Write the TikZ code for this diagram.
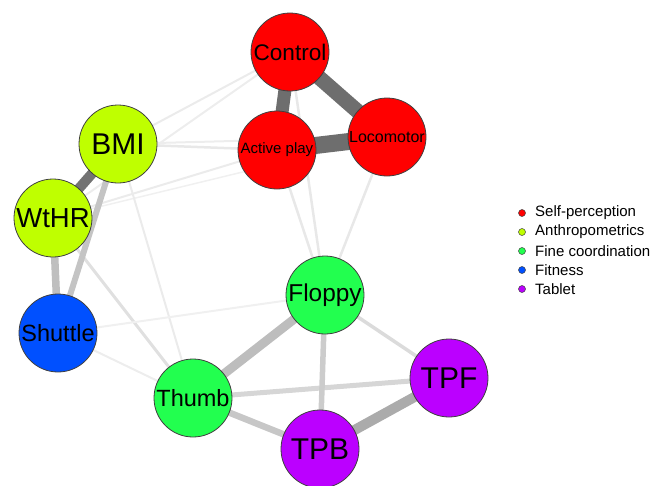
\documentclass[tikz,border=0pt]{standalone}
\usepackage{fontspec}
\setmainfont{Liberation Sans}
\usetikzlibrary{backgrounds}
\definecolor{selfp}{HTML}{FF0000}
\definecolor{anthro}{HTML}{BFFF00}
\definecolor{finec}{HTML}{22FF4F}
\definecolor{fitn}{HTML}{0050FF}
\definecolor{tabl}{HTML}{BB00FF}
\begin{document}
\begin{tikzpicture}[x=1pt,y=-1pt,
  var/.style={circle, draw=black!75, line width=0.8pt, minimum size=78pt, inner sep=0pt},
  lab/.style={font=\fontsize{#1}{#1}\selectfont},
  edge/.style={line width=#1},
  key/.style={circle, draw=black!75, line width=0.5pt, minimum size=7pt, inner sep=0pt}]
\useasboundingbox (0,0) rectangle (656,485);
\node [var, fill=selfp, lab=22.6] (control) at (290,52) {Control};
\node [var, fill=selfp, lab=15] (active) at (277,150) {Active play};
\node [var, fill=selfp, lab=16] (loco) at (387,137) {Locomotor};
\node [var, fill=anthro, lab=30] (bmi) at (118,144) {BMI};
\node [var, fill=anthro, lab=27.5] (wthr) at (53,218) {WtHR};
\node [var, fill=fitn, lab=23.5] (shuttle) at (58,333) {Shuttle};
\node [var, fill=finec, lab=23.5] (thumb) at (193,398) {Thumb};
\node [var, fill=finec, lab=24.4] (floppy) at (325,295) {Floppy};
\node [var, fill=tabl, lab=30] (tpf) at (449,378) {TPF};
\node [var, fill=tabl, lab=30] (tpb) at (320,449) {TPB};
\begin{scope}[on background layer]
\draw [edge=2pt, black!8] (bmi.center) -- (control.center);
\draw [edge=2pt, black!7] (wthr.center) -- (control.center);
\draw [edge=2.5pt, black!9] (bmi.center) -- (active.center);
\draw [edge=2pt, black!7] (bmi.center) -- (loco.center);
\draw [edge=2pt, black!8] (wthr.center) -- (active.center);
\draw [edge=1.5pt, black!6] (wthr.center) -- (loco.center);
\draw [edge=2.5pt, black!9] (control.center) -- (floppy.center);
\draw [edge=2.5pt, black!9] (active.center) -- (floppy.center);
\draw [edge=2.5pt, black!9] (loco.center) -- (floppy.center);
\draw [edge=2pt, black!8] (bmi.center) -- (thumb.center);
\draw [edge=3pt, black!12] (wthr.center) -- (thumb.center);
\draw [edge=2pt, black!6] (shuttle.center) -- (floppy.center);
\draw [edge=2pt, black!7] (shuttle.center) -- (thumb.center);
\draw [edge=3.5pt, black!14] (floppy.center) -- (tpf.center);
\draw [edge=5pt, black!16] (thumb.center) -- (tpf.center);
\draw [edge=5.5pt, black!20] (floppy.center) -- (tpb.center);
\draw [edge=6.5pt, black!22] (thumb.center) -- (tpb.center);
\draw [edge=9pt, black!26] (thumb.center) -- (floppy.center);
\draw [edge=10pt, black!33] (tpb.center) -- (tpf.center);
\draw [edge=6pt, black!23] (bmi.center) -- (shuttle.center);
\draw [edge=7.5pt, black!25] (wthr.center) -- (shuttle.center);
\draw [edge=10pt, black!55] (bmi.center) -- (wthr.center);
\draw [edge=13pt, black!57] (control.center) -- (active.center);
\draw [edge=15pt, black!57] (control.center) -- (loco.center);
\draw [edge=17pt, black!57] (active.center) -- (loco.center);
\end{scope}
\node [key, fill=selfp] (k1) at (522,213) {};
\node [key, fill=anthro] (k2) at (522,232) {};
\node [key, fill=finec] (k3) at (522,251) {};
\node [key, fill=fitn] (k4) at (522,270) {};
\node [key, fill=tabl] (k5) at (522,289) {};
\node [right, lab=15, inner sep=0pt] (t1) at (535,213) {Self-perception};
\node [right, lab=15, inner sep=0pt] (t2) at (535,232) {Anthropometrics};
\node [right, lab=15, inner sep=0pt] (t3) at (535,251) {Fine coordination};
\node [right, lab=15, inner sep=0pt] (t4) at (535,270) {Fitness};
\node [right, lab=15, inner sep=0pt] (t5) at (535,289) {Tablet};
\end{tikzpicture}
\end{document}
